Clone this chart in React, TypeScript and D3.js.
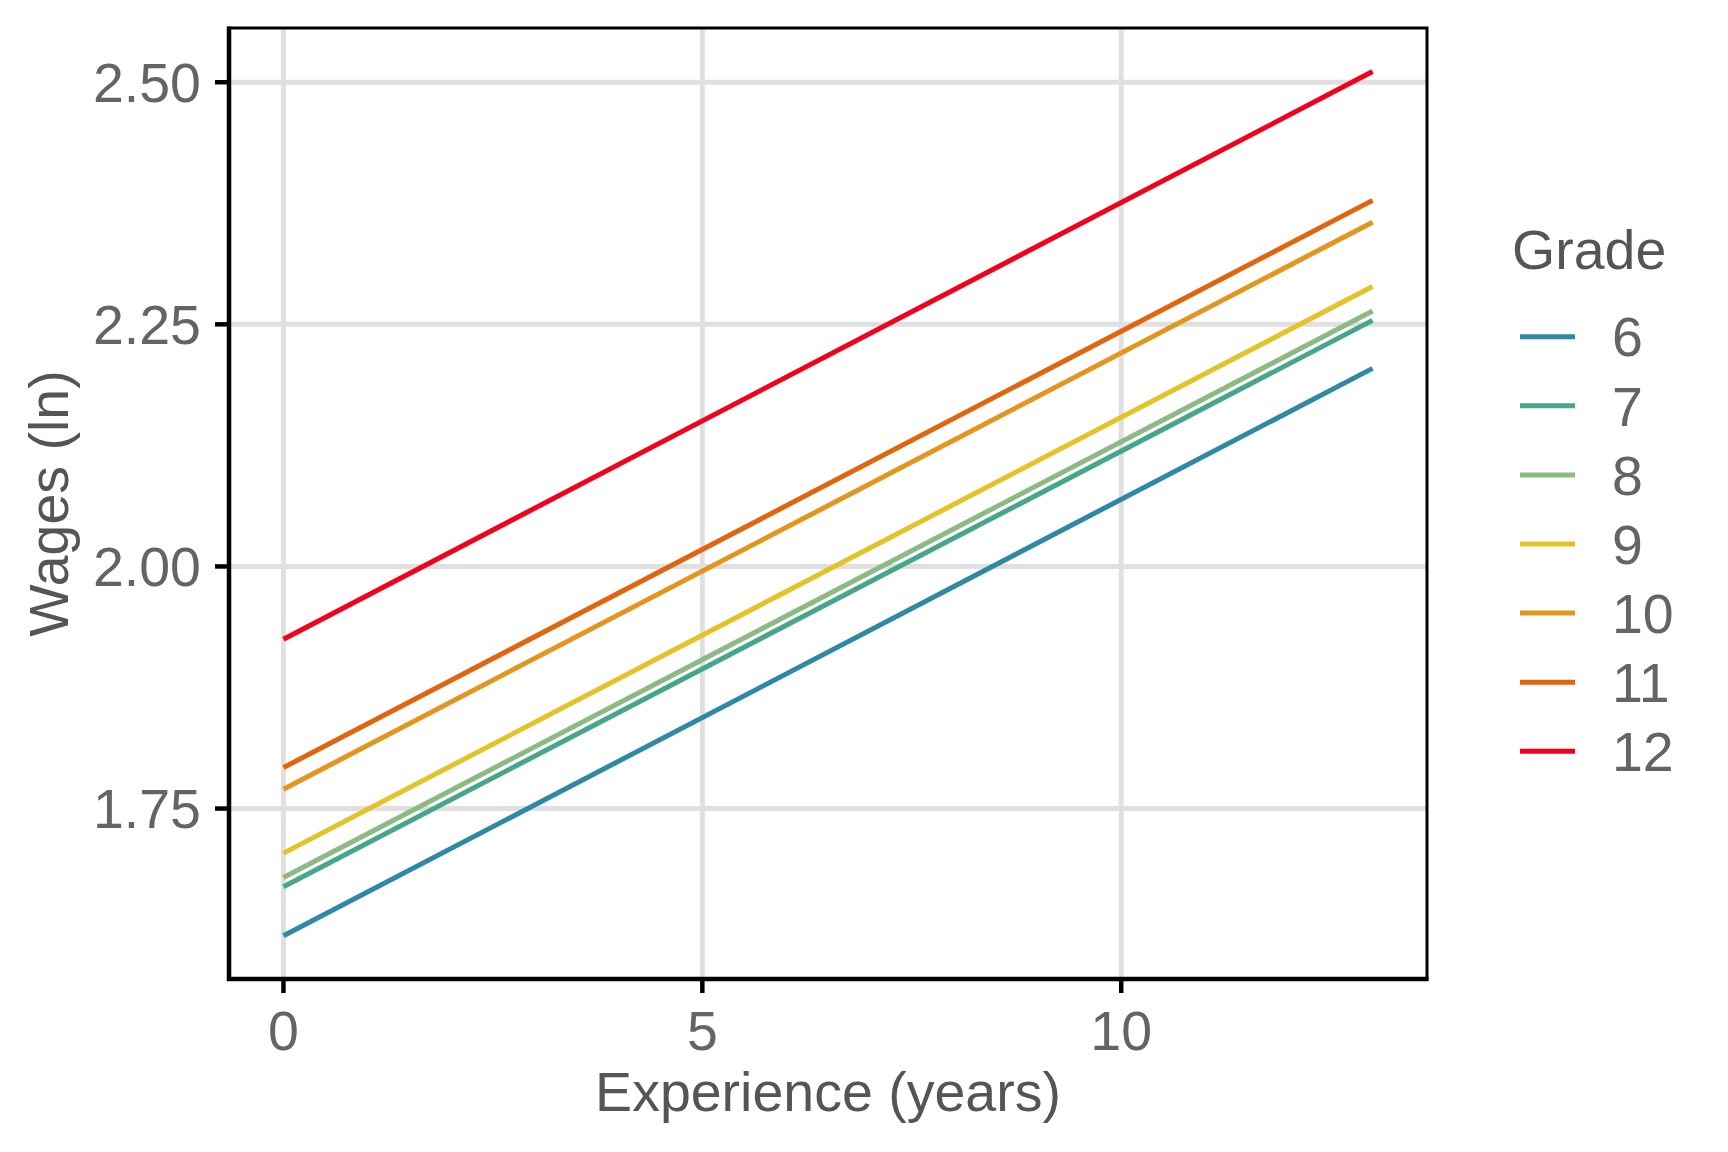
import React from "react";
import * as d3 from "d3";

const grades = ["6", "7", "8", "9", "10", "11", "12"];
const experience = [0, 13];
const wageStart = [1.6186, 1.6692, 1.6788, 1.704, 1.77, 1.7923, 1.9249];
const wageEnd = [2.2045, 2.2541, 2.2637, 2.289, 2.3555, 2.378, 2.511];
const colors = ["#2F88A6", "#46A68C", "#8DB983", "#E5C228", "#E3951D", "#E0650C", "#F2001C"];
const xTicks = [0, 5, 10];
const yTicks = [1.75, 2.0, 2.25, 2.5];

const W = 1728;
const H = 1152;
const P = { left: 229, right: 1427, top: 28, bottom: 979 };
const FONT = "'Liberation Sans', Arial, Helvetica, sans-serif";
const FS = 55.5;

export default function App() {
  const x = d3.scaleLinear().domain([-0.65, 13.65]).range([P.left, P.right]);
  const y = d3.scaleLinear().domain([1.574, 2.556]).range([P.bottom, P.top]);
  const line = d3
    .line<[number, number]>()
    .x((d) => x(d[0]))
    .y((d) => y(d[1]));

  const series = grades.map((g, i) => ({
    grade: g,
    color: colors[i],
    pts: [
      [experience[0], wageStart[i]],
      [experience[1], wageEnd[i]],
    ] as [number, number][],
  }));

  return (
    <svg
      width={W}
      height={H}
      style={{ position: "absolute", left: 0, top: 0, background: "#fff" }}
      fontFamily={FONT}
    >
      <rect x={0} y={0} width={W} height={H} fill="#fff" />
      {/* grid */}
      {xTicks.map((t) => (
        <line key={"gx" + t} x1={x(t)} x2={x(t)} y1={P.top} y2={P.bottom} stroke="#E0E0E0" strokeWidth={5} />
      ))}
      {yTicks.map((t) => (
        <line key={"gy" + t} x1={P.left} x2={P.right} y1={y(t)} y2={y(t)} stroke="#E0E0E0" strokeWidth={5} />
      ))}
      {/* series */}
      {series.map((s) => (
        <path key={s.grade} d={line(s.pts) || ""} fill="none" stroke={s.color} strokeWidth={5} />
      ))}
      {/* border */}
      <rect x={P.left} y={P.top} width={P.right - P.left} height={P.bottom - P.top} fill="none" stroke="#000" strokeWidth={3} />
      <line x1={P.left} x2={P.left} y1={P.top - 1.5} y2={P.bottom + 2} stroke="#000" strokeWidth={4.5} />
      <line x1={P.left - 2} x2={P.right + 1.5} y1={P.bottom} y2={P.bottom} stroke="#000" strokeWidth={4.5} />
      {/* y ticks */}
      {yTicks.map((t) => (
        <g key={"yt" + t}>
          <line x1={P.left - 14} x2={P.left} y1={y(t)} y2={y(t)} stroke="#000" strokeWidth={4.5} />
          <text x={201} y={y(t)} dy="0.355em" textAnchor="end" fontSize={FS} fill="#646464">
            {d3.format(".2f")(t)}
          </text>
        </g>
      ))}
      {/* x ticks */}
      {xTicks.map((t) => (
        <g key={"xt" + t}>
          <line x1={x(t)} x2={x(t)} y1={P.bottom} y2={P.bottom + 14} stroke="#000" strokeWidth={4.5} />
          <text x={x(t)} y={1050} textAnchor="middle" fontSize={FS} fill="#646464">
            {t}
          </text>
        </g>
      ))}
      {/* axis titles */}
      <text x={(P.left + P.right) / 2} y={1111} textAnchor="middle" fontSize={FS} fill="#555">
        Experience (years)
      </text>
      <text
        transform={`translate(68, ${(P.top + P.bottom) / 2}) rotate(-90)`}
        textAnchor="middle"
        fontSize={FS}
        fill="#555"
      >
        Wages (ln)
      </text>
      {/* legend */}
      <text x={1512} y={269} fontSize={FS} fill="#555">
        Grade
      </text>
      {series.map((s, i) => {
        const cy = 336.7 + i * 69.1;
        return (
          <g key={"lg" + s.grade}>
            <line x1={1520} x2={1575} y1={cy} y2={cy} stroke={s.color} strokeWidth={5} />
            <text x={1612} y={cy} dy="0.355em" fontSize={FS} fill="#646464">
              {s.grade}
            </text>
          </g>
        );
      })}
    </svg>
  );
}
